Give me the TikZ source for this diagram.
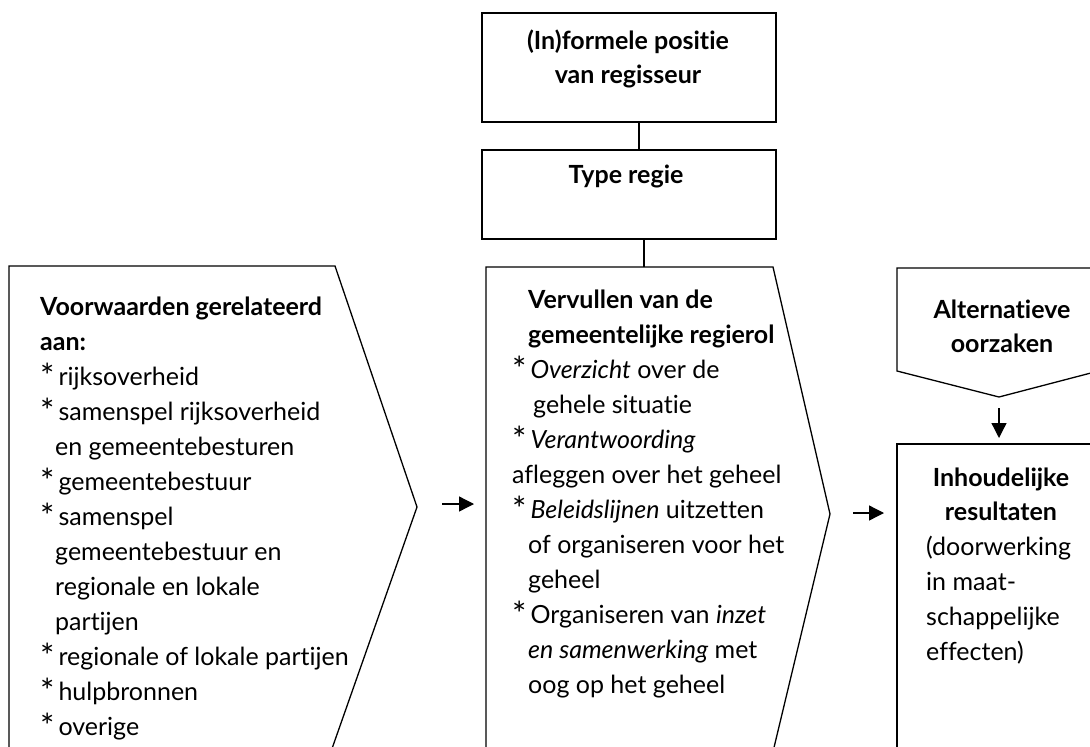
\documentclass[tikz,border=0pt]{standalone}
\usepackage{fontspec}
\usepackage{graphicx}
\setmainfont{Lato}[Ligatures=NoCommon]
\usetikzlibrary{arrows.meta}
\tikzset{
  shapeline/.style={draw, line width=1.3pt, line join=miter},
  conn/.style={draw, line width=1.3pt},
  arr/.style={line width=1.3pt, -{Triangle[length=15pt,width=15pt]}},
  body/.style={font=\fontsize{25}{35}\selectfont, align=left, inner sep=0pt, anchor=base west},
  ctr/.style={font=\fontsize{25}{34}\selectfont\bfseries, align=center, inner sep=0pt, anchor=base},
}
\newcommand{\ind}{\hspace*{15pt}}
\newcommand{\bul}{\raisebox{-3pt}{\scalebox{1.35}{*}}\hspace*{4pt}}
\begin{document}
\begin{tikzpicture}[x=1pt,y=-1pt]
\useasboundingbox (0,0) rectangle (1090,747);
\clip (0,0) rectangle (1090,747);
% shapes
\draw[shapeline] (482,13) rectangle (776,122);
\draw[shapeline] (482,150) rectangle (776,239);
\draw[shapeline] (9,760) -- (9,266) -- (335,266) -- (417,507) -- (328,760);
\draw[shapeline] (486,760) -- (486,267) -- (773,267) -- (830,514) -- (771,760);
\draw[shapeline] (1110,268) -- (897,268) -- (897,371) -- (999,397) -- (1110,368);
\draw[shapeline] (1110,444) -- (897,444) -- (897,760);
% anchor coordinates
\coordinate (posS) at (639,122);
\coordinate (typN) at (639,150);
\coordinate (typS) at (644,239);
\coordinate (midN) at (644,267);
\coordinate (a1s) at (442,504);
\coordinate (midW) at (474,504);
\coordinate (a2s) at (853,513);
\coordinate (resW) at (884,513);
\coordinate (altS) at (999,408);
\coordinate (resN) at (999,438);
% connectors
\draw[conn] (posS) -- (typN);
\draw[conn] (typS) -- (midN);
\draw[arr] (a1s) -- (midW);
\draw[arr] (a2s) -- (resW);
\draw[arr] (altS) -- (resN);
% texts (base anchor = baseline of the last line)
\node[ctr] (tpos) at (628,83) {(In)formele positie\\van regisseur};
\node[ctr] (ttype) at (626,183) {Type regie};
\node[body] (tleft) at (40,735) {\textbf{Voorwaarden gerelateerd}\\
\textbf{aan:}\\
\bul rijksoverheid\\
\bul samenspel rijksoverheid\\
\ind en gemeentebesturen\\
\bul gemeentebestuur\\
\bul samenspel\\
\ind gemeentebestuur en\\
\ind regionale en lokale\\
\ind partijen\\
\bul regionale of lokale partijen\\
\bul hulpbronnen\\
\bul overige};
\node[body] (tmid) at (512,693) {\hspace*{16pt}\textbf{Vervullen van de}\\
\hspace*{16pt}\textbf{gemeentelijke regierol}\\
\bul \textit{Overzicht} over de\\
\hspace*{21pt}gehele situatie\\
\bul \textit{Verantwoording}\\
afleggen over het geheel\\
\bul \textit{Beleidslijnen} uitzetten\\
\hspace*{16pt}of organiseren voor het\\
\hspace*{16pt}geheel\\
\bul Organiseren van \textit{inzet}\\
\hspace*{16pt}\textit{en samenwerking} met\\
\hspace*{16pt}oog op het geheel};
\node[ctr] (talt) at (1002,352) {Alternatieve\\oorzaken};
\node[ctr] (tres) at (1001,520) {Inhoudelijke\\resultaten};
\node[body] (tres2) at (926,660) {(doorwerking\\in maat-\\schappelijke\\effecten)};
\end{tikzpicture}
\end{document}
